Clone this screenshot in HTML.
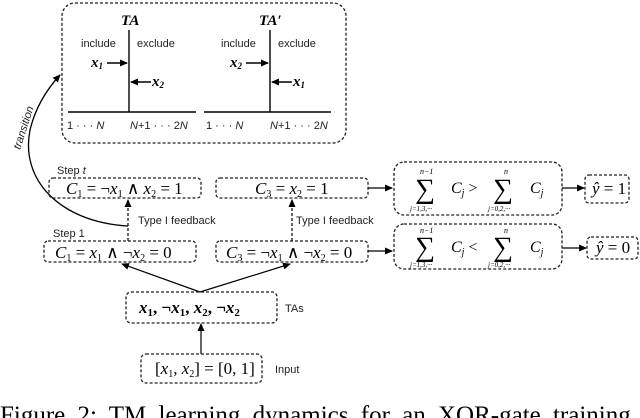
<!DOCTYPE html>
<html><head><style>
html,body{margin:0;padding:0;background:#fff;}
svg{display:block;}
.s{font-family:"Liberation Sans",sans-serif;font-size:11px;fill:#222;}
.m{font-family:"Liberation Serif",serif;font-style:italic;font-size:15px;fill:#000;}
.mb{font-family:"Liberation Serif",serif;font-size:17px;fill:#000;}
.b{fill:none;stroke:#222;stroke-width:1.3;stroke-dasharray:3,2;}
</style></head><body>
<svg width="640" height="418" viewBox="0 0 640 418" xmlns="http://www.w3.org/2000/svg">
<defs><marker id="a" markerWidth="8" markerHeight="8" refX="7" refY="4" orient="auto" markerUnits="userSpaceOnUse"><path d="M0,0.5 L8,4 L0,7.5 Z" fill="#000"/></marker></defs>
<rect class="b" x="62" y="3" width="284" height="140" rx="13"/>
<g stroke="#000" stroke-width="1.4" fill="none">
<line x1="129" y1="30" x2="129" y2="112"/><line x1="68" y1="112" x2="196" y2="112"/>
<line x1="270" y1="30" x2="270" y2="112"/><line x1="204" y1="112" x2="331" y2="112"/>
<line x1="107" y1="63" x2="127" y2="63" marker-end="url(#a)"/>
<line x1="151" y1="82" x2="131" y2="82" marker-end="url(#a)"/>
<line x1="246" y1="63" x2="268" y2="63" marker-end="url(#a)"/>
<line x1="292" y1="82" x2="272" y2="82" marker-end="url(#a)"/>
</g>
<text class="m" x="121" y="25" font-weight="bold">TA</text>
<text class="m" x="259" y="25" font-weight="bold">TA′</text>
<text class="s" x="81" y="47">include</text><text class="s" x="137" y="47">exclude</text>
<text class="s" x="221" y="47">include</text><text class="s" x="278" y="47">exclude</text>
<text class="m" x="91" y="67" font-weight="bold">x<tspan font-size="9" dy="2">1</tspan></text>
<text class="m" x="152" y="86" font-weight="bold">x<tspan font-size="9" dy="2">2</tspan></text>
<text class="m" x="230" y="67" font-weight="bold">x<tspan font-size="9" dy="2">2</tspan></text>
<text class="m" x="293" y="86" font-weight="bold">x<tspan font-size="9" dy="2">1</tspan></text>
<text class="s" x="67" y="129">1 · · · <tspan font-style="italic">N</tspan>  <tspan font-style="italic" x="130">N</tspan>+1 · · · 2<tspan font-style="italic">N</tspan></text>
<text class="s" x="206" y="129">1 · · · <tspan font-style="italic">N</tspan>  <tspan font-style="italic" x="270">N</tspan>+1 · · · 2<tspan font-style="italic">N</tspan></text>
<path d="M128,226 C60,222 20,180 30,130 C36,105 48,88 60,75" fill="none" stroke="#000" stroke-width="1.3" marker-end="url(#a)"/>
<text class="s" font-style="italic" font-size="10" transform="translate(20,150) rotate(-72)">transition</text>
<text class="s" x="57" y="174" font-size="10">Step <tspan font-style="italic">t</tspan></text>
<rect class="b" x="49" y="178" width="152" height="20" rx="4"/>
<text class="mb" x="66" y="194"><tspan font-style="italic">C</tspan><tspan font-size="10" dy="3">1</tspan><tspan dy="-3"> = ¬</tspan><tspan font-style="italic">x</tspan><tspan font-size="10" dy="3">1</tspan><tspan dy="-3"> ∧ </tspan><tspan font-style="italic">x</tspan><tspan font-size="10" dy="3">2</tspan><tspan dy="-3"> = 1</tspan></text>
<rect class="b" x="216" y="178" width="152" height="20" rx="4"/>
<text class="mb" x="255" y="194"><tspan font-style="italic">C</tspan><tspan font-size="10" dy="3">3</tspan><tspan dy="-3"> = </tspan><tspan font-style="italic">x</tspan><tspan font-size="10" dy="3">2</tspan><tspan dy="-3"> = 1</tspan></text>
<text class="s" x="53" y="237" font-size="10">Step 1</text>
<rect class="b" x="44" y="241" width="152" height="21" rx="4"/>
<text class="mb" x="55" y="258"><tspan font-style="italic">C</tspan><tspan font-size="10" dy="3">1</tspan><tspan dy="-3"> = </tspan><tspan font-style="italic">x</tspan><tspan font-size="10" dy="3">1</tspan><tspan dy="-3"> ∧ ¬</tspan><tspan font-style="italic">x</tspan><tspan font-size="10" dy="3">2</tspan><tspan dy="-3"> = 0</tspan></text>
<rect class="b" x="216" y="241" width="152" height="21" rx="4"/>
<text class="mb" x="226" y="258"><tspan font-style="italic">C</tspan><tspan font-size="10" dy="3">3</tspan><tspan dy="-3"> = ¬</tspan><tspan font-style="italic">x</tspan><tspan font-size="10" dy="3">1</tspan><tspan dy="-3"> ∧ ¬</tspan><tspan font-style="italic">x</tspan><tspan font-size="10" dy="3">2</tspan><tspan dy="-3"> = 0</tspan></text>
<g stroke="#000" stroke-width="1.2" fill="none">
<line x1="128" y1="241" x2="128" y2="200" stroke-dasharray="3,2" marker-end="url(#a)"/>
<line x1="292" y1="241" x2="292" y2="200" stroke-dasharray="3,2" marker-end="url(#a)"/>
<line x1="368" y1="188" x2="392" y2="188" marker-end="url(#a)"/>
<line x1="368" y1="251" x2="392" y2="251" marker-end="url(#a)"/>
<line x1="562" y1="188" x2="584" y2="188" marker-end="url(#a)"/>
<line x1="562" y1="248" x2="586" y2="248" marker-end="url(#a)"/>
<line x1="200" y1="292" x2="122" y2="264" marker-end="url(#a)"/>
<line x1="200" y1="292" x2="290" y2="264" marker-end="url(#a)"/>
<line x1="201" y1="354" x2="201" y2="324" marker-end="url(#a)"/>
</g>
<text class="s" x="138" y="224" font-size="10.5">Type I feedback</text>
<text class="s" x="296" y="224" font-size="10.5">Type I feedback</text>
<rect class="b" x="394" y="162" width="168" height="53" rx="10"/>
<rect class="b" x="394" y="224" width="168" height="45" rx="10"/>
<g font-family="Liberation Serif,serif" fill="#000">
<text x="415" y="198" font-size="28">∑</text><text x="420" y="174" font-size="8" font-style="italic">n−1</text>
<text x="410" y="211" font-size="7" font-style="italic">j=1,3,···</text>
<text x="451" y="193" font-size="16"><tspan font-style="italic">C<tspan font-size="10" dy="3">j</tspan></tspan><tspan dy="-3"> &gt;</tspan></text>
<text x="493" y="198" font-size="28">∑</text><text x="504" y="174" font-size="8" font-style="italic">n</text>
<text x="488" y="211" font-size="7" font-style="italic">j=0,2,···</text>
<text x="530" y="193" font-size="16" font-style="italic">C<tspan font-size="10" dy="3">j</tspan></text>
<text x="415" y="256" font-size="28">∑</text><text x="420" y="233" font-size="8" font-style="italic">n−1</text>
<text x="410" y="267" font-size="7" font-style="italic">j=1,3,···</text>
<text x="451" y="252" font-size="16"><tspan font-style="italic">C<tspan font-size="10" dy="3">j</tspan></tspan><tspan dy="-3"> &lt;</tspan></text>
<text x="493" y="256" font-size="28">∑</text><text x="504" y="233" font-size="8" font-style="italic">n</text>
<text x="488" y="267" font-size="7" font-style="italic">j=0,2,···</text>
<text x="530" y="252" font-size="16" font-style="italic">C<tspan font-size="10" dy="3">j</tspan></text>
</g>
<rect class="b" x="585" y="175" width="44" height="28" rx="4"/>
<text class="mb" x="592" y="194" font-size="15"><tspan font-style="italic">ŷ</tspan> = 1</text>
<rect class="b" x="587" y="237" width="51" height="22" rx="4"/>
<text class="mb" x="596" y="253" font-size="15"><tspan font-style="italic">ŷ</tspan> = 0</text>
<rect class="b" x="126" y="292" width="151" height="31" rx="5"/>
<text class="mb" x="139" y="313" font-size="18" font-weight="bold"><tspan font-style="italic">x</tspan><tspan font-size="11" dy="3">1</tspan><tspan dy="-3">, ¬</tspan><tspan font-style="italic">x</tspan><tspan font-size="11" dy="3">1</tspan><tspan dy="-3">, </tspan><tspan font-style="italic">x</tspan><tspan font-size="11" dy="3">2</tspan><tspan dy="-3">, ¬</tspan><tspan font-style="italic">x</tspan><tspan font-size="11" dy="3">2</tspan></text>
<text class="s" x="285" y="312">TAs</text>
<rect class="b" x="141" y="354" width="121" height="29" rx="5"/>
<text class="mb" x="155" y="374">[<tspan font-style="italic">x</tspan><tspan font-size="10" dy="3">1</tspan><tspan dy="-3">, </tspan><tspan font-style="italic">x</tspan><tspan font-size="10" dy="3">2</tspan><tspan dy="-3">] = [0, 1]</tspan></text>
<text class="s" x="275" y="373">Input</text>
<text x="0" y="423" font-family="Liberation Serif,serif" font-size="25" fill="#000" word-spacing="6">Figure 2:  TM learning dynamics for an XOR-gate training</text>
</svg>
</body></html>
